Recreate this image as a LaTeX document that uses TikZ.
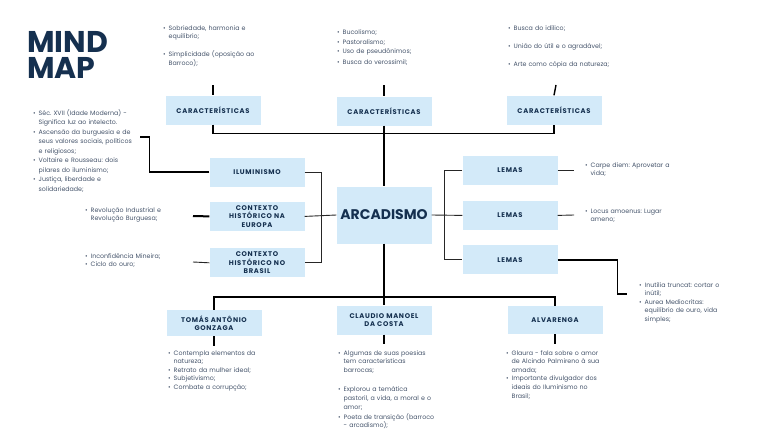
\documentclass[tikz,border=0pt]{standalone}
\usepackage{fontspec}
\setmainfont{Poppins}
\newfontfamily\lblfont[LetterSpace=10]{Poppins}
\usetikzlibrary{positioning}
\frenchspacing

\definecolor{azul}{HTML}{D3EAF9}
\definecolor{marinho}{HTML}{15304F}
\definecolor{texto}{HTML}{45546B}

\newcommand{\itm}[1]{\hangindent=5.5pt\hangafter=1\noindent\makebox[5.5pt][l]{\textbullet}#1\par}
\newcommand{\espaco}[1]{\vspace{#1}}

\tikzset{
  caixa/.style={fill=azul, minimum width=95pt, minimum height=29pt, inner sep=1pt,
    align=center, text=marinho, font=\lblfont\bfseries\fontsize{6.8}{8.3}\selectfont},
  lista/.style={anchor=base west, inner sep=0pt, text width=140pt, text=texto,
    font=\fontsize{6.3}{8.6}\selectfont},
  titulo/.style={anchor=base west, inner sep=0pt, text=marinho, font=\bfseries\fontsize{30}{26}\selectfont},
  liga/.style={line width=1.4pt},
  fina/.style={line width=0.9pt, draw=black!85},
}

\begin{document}
\begin{tikzpicture}[x=1pt, y=-1pt]
    \useasboundingbox[fill=white] (0,0) rectangle (768,431);

    \node[titulo] (mind) at (27,52) {MIND};
    \node[titulo] (map) at (27,78) {MAP};

    % caixas
    \node[caixa] (carA) at (213,110) {CARACTERÍSTICAS};
    \node[caixa] (carB) at (384,111) {CARACTERÍSTICAS};
    \node[caixa] (carC) at (554,110) {CARACTERÍSTICAS};
    \node[caixa, minimum height=57pt, font=\bfseries\fontsize{14}{16}\selectfont] (arc) at (384,215) {ARCADISMO};
    \node[caixa] (ilum) at (257,172) {ILUMINISMO};
    \node[caixa, below=15pt of ilum] (europa) {CONTEXTO\\HISTÓRICO NA\\EUROPA};
    \node[caixa, below=17pt of europa] (brasil) {CONTEXTO\\HISTÓRICO NO\\BRASIL};
    \node[caixa] (lemaA) at (510,170) {LEMAS};
    \node[caixa, below=16pt of lemaA] (lemaB) {LEMAS};
    \node[caixa, below=15pt of lemaB] (lemaC) {LEMAS};
    \node[caixa, minimum height=26pt] (tomas) at (214,323) {TOMÁS ANTÔNIO\\GONZAGA};
    \node[caixa] (claudio) at (384,320) {CLAUDIO MANOEL\\DA COSTA};
    \node[caixa, minimum height=28pt] (alva) at (555,320) {ALVARENGA};

    % listas
    \node[lista] (lA) at (163,30) {\itm{Sobriedade, harmonia e\newline equilíbrio;}\espaco{9.4pt}%
      \itm{Simplicidade (oposição ao\newline Barroco);}};
    \node[lista] (lB) at (337,34) {\itm{Bucolismo;}\espaco{1.4pt}\itm{Pastoralismo;}\espaco{1.4pt}%
      \itm{Uso de pseudônimos;}\espaco{1.4pt}\itm{Busca do verossímil;}};
    \node[lista] (lC) at (508,30) {\itm{Busca do idílico;}\espaco{9.4pt}\itm{União do útil e o agradável;}%
      \espaco{9.4pt}\itm{Arte como cópia da natureza;}};
    \node[lista, font=\fontsize{6.3}{9.5}\selectfont] (lI) at (33,115) {%
      \itm{Séc. XVII (Idade Moderna) -\newline Significa luz ao intelecto.}%
      \itm{Ascensão da burguesia e de\newline seus valores sociais, políticos\newline e religiosos;}%
      \itm{Voltaire e Rousseau: dois\newline pilares do iluminismo;}%
      \itm{Justiça, liberdade e\newline solidariedade;}};
    \node[lista] (lE) at (85,212) {\itm{Revolução Industrial e\newline Revolução Burguesa;}};
    \node[lista] (lBr) at (85,258) {\itm{Inconfidência Mineira;}\itm{Ciclo do ouro;}};
    \node[lista] (lL1) at (585,167) {\itm{Carpe diem: Aprovetar a\newline vida;}};
    \node[lista] (lL2) at (585,213) {\itm{Locus amoenus: Lugar\newline ameno;}};
    \node[lista] (lL3) at (639,287) {\itm{Inutilia truncat: cortar o\newline inútil;}%
      \itm{Aurea Mediocritas:\newline equilíbrio de ouro, vida\newline simples;}};
    \node[lista] (lT) at (168,355) {\itm{Contempla elementos da\newline natureza;}%
      \itm{Retrato da mulher ideal;}\itm{Subjetivismo;}\itm{Combate a corrupção;}};
    \node[lista] (lCl) at (338,355) {\itm{Algumas de suas poesias\newline tem características\newline barrocas;}%
      \espaco{11pt}\itm{Explorou a temática\newline pastoril, a vida, a moral e o\newline amor;}%
      \espaco{1.5pt}\itm{Poeta de transição (barroco\newline - arcadismo);}};
    \node[lista] (lAl) at (506,355) {\itm{Glaura - fala sobre o amor\newline de Alcindo Palmireno à sua\newline amada;}%
      \itm{Importante divulgador dos\newline ideais do Iluminismo no\newline Brasil;}};

    % pontas soltas
    \coordinate (cA) at (213,85);
    \coordinate (cB) at (384,85);
    \coordinate (cC) at (556,85);
    \coordinate (dI) at (140,137);
    \coordinate (dE) at (193,216);
    \coordinate (dBr) at (193,262);
    \coordinate (dA) at (574,170);
    \coordinate (dB) at (574,215);
    \coordinate (dC) at (627,294);
    \coordinate (eT) at (214,346);
    \coordinate (eCl) at (384,344);
    \coordinate (eAl) at (555,344);

    % ligacoes
    \draw[liga] (cA) -- (carA.north);
    \draw[liga] (cB) -- (carB.north);
    \draw[liga] (cC) -- (carC.north);
    \draw[liga] (carA.south) -- ++(0,9) -| (carC.south);
    \draw[liga] (carB.south) -- (arc.north);
    \draw[fina] (ilum.east) -- ++(17,0) |- (brasil.east);
    \draw[fina] (europa.east) -- (arc.west);
    \draw[fina] (arc.east) -- (lemaB.west);
    \draw[fina] (lemaA.west) -- ++(-18,0) |- (lemaC.west);
    \draw[fina] (lemaA.east) -- (dA);
    \draw[fina] (lemaB.east) -- (dB);
    \draw[liga] (lemaC.east) -- ++(60,0) |- (dC);
    \draw[liga] (ilum.west) -- ++(-60,0) |- (dI);
    \draw[line width=2pt] (europa.west) -- (dE);
    \draw[fina] (brasil.west) -- (dBr);
    \draw[liga] (arc.south) -- (claudio.north);
    \draw[liga] (tomas.north) -- ++(0,-13) -| (alva.north);
    \draw[liga] (tomas.south) -- (eT);
    \draw[liga] (claudio.south) -- (eCl);
    \draw[liga] (alva.south) -- (eAl);
\end{tikzpicture}
\end{document}
